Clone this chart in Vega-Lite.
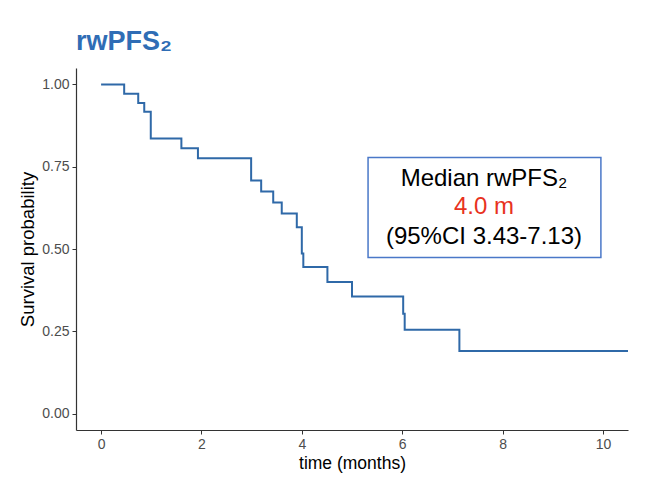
{
  "$schema": "https://vega.github.io/schema/vega-lite/v6.json",
  "autosize": "none",
  "width": 552,
  "height": 362,
  "padding": {"left": 76, "top": 68, "right": 17, "bottom": 51},
  "background": "white",
  "title": {
    "text": "rwPFS₂",
    "anchor": "start",
    "frame": "group",
    "offset": 12,
    "font": "Liberation Sans",
    "fontSize": 27,
    "fontWeight": "bold",
    "color": "#2f6db5"
  },
  "datasets": {
    "km": [
      {"time": 0, "surv": 1},
      {"time": 0.46, "surv": 0.972},
      {"time": 0.74, "surv": 0.944},
      {"time": 0.86, "surv": 0.917},
      {"time": 0.99, "surv": 0.836},
      {"time": 1.6, "surv": 0.806},
      {"time": 1.93, "surv": 0.776},
      {"time": 2.99, "surv": 0.708},
      {"time": 3.19, "surv": 0.675},
      {"time": 3.43, "surv": 0.641},
      {"time": 3.6, "surv": 0.608},
      {"time": 3.9, "surv": 0.566},
      {"time": 4.0, "surv": 0.486},
      {"time": 4.03, "surv": 0.445},
      {"time": 4.51, "surv": 0.4},
      {"time": 5.0, "surv": 0.356},
      {"time": 6.02, "surv": 0.303},
      {"time": 6.05, "surv": 0.255},
      {"time": 7.14, "surv": 0.19},
      {"time": 10.5, "surv": 0.19}
    ],
    "box": [
      {"x1": 5.32, "x2": 9.96, "y1": 0.474, "y2": 0.778}
    ],
    "notes": [
      {"x": 7.63, "y": 0.714, "label": "Median rwPFS₂", "kind": "head"},
      {"x": 7.63, "y": 0.629, "label": "4.0 m", "kind": "median"},
      {"x": 7.63, "y": 0.535, "label": "(95%CI 3.43-7.13)", "kind": "ci"}
    ]
  },
  "layer": [
    {
      "data": {"name": "km"},
      "mark": {"type": "line", "interpolate": "step-after", "color": "#2f69a8", "strokeWidth": 2},
      "encoding": {
        "x": {
          "field": "time",
          "type": "quantitative",
          "scale": {"domain": [-0.5, 10.5], "nice": false, "zero": false},
          "axis": {"values": [0, 2, 4, 6, 8, 10], "title": "time (months)"}
        },
        "y": {
          "field": "surv",
          "type": "quantitative",
          "scale": {"domain": [-0.05, 1.05], "nice": false, "zero": false},
          "axis": {"values": [0, 0.25, 0.5, 0.75, 1], "format": ".2f", "title": "Survival probability"}
        }
      }
    },
    {
      "data": {"name": "box"},
      "mark": {"type": "rect", "fill": "white", "stroke": "#4a78c8", "strokeWidth": 1.5},
      "encoding": {
        "x": {"field": "x1", "type": "quantitative"},
        "x2": {"field": "x2"},
        "y": {"field": "y1", "type": "quantitative"},
        "y2": {"field": "y2"}
      }
    },
    {
      "data": {"name": "notes"},
      "mark": {"type": "text", "font": "Liberation Sans", "fontSize": 24, "align": "center", "baseline": "middle"},
      "encoding": {
        "x": {"field": "x", "type": "quantitative"},
        "y": {"field": "y", "type": "quantitative"},
        "text": {"field": "label"},
        "color": {
          "field": "kind",
          "type": "nominal",
          "scale": {"domain": ["head", "median", "ci"], "range": ["#000000", "#e8321e", "#000000"]},
          "legend": null
        }
      }
    }
  ],
  "config": {
    "view": {"stroke": null},
    "font": "Liberation Sans",
    "axis": {
      "grid": false,
      "domainColor": "#333333",
      "domainWidth": 1.2,
      "tickColor": "#333333",
      "tickSize": 4,
      "labelColor": "#4d4d4d",
      "labelFont": "Liberation Sans",
      "labelFontSize": 14,
      "titleFont": "Liberation Sans",
      "titleFontWeight": "normal",
      "titleColor": "#000000"
    },
    "axisX": {"labelPadding": 3, "titlePadding": 3, "titleFontSize": 17.5},
    "axisY": {"labelPadding": 3, "titlePadding": 4, "titleFontSize": 18.5}
  }
}
